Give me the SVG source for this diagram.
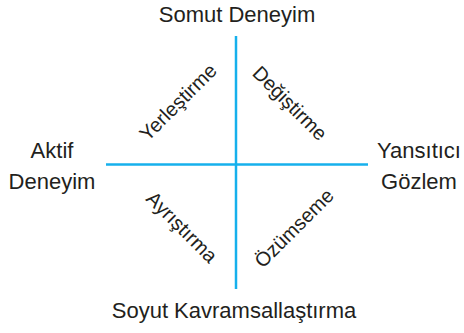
<svg xmlns="http://www.w3.org/2000/svg" width="464" height="333" viewBox="0 0 464 333">
<style>
text{font-family:"Liberation Sans",Arial,sans-serif;font-size:22px;fill:#231f20;text-anchor:middle}
.d{font-size:20px;dominant-baseline:central}
.ax{stroke:#16b0ec;stroke-width:2.5;fill:none}
</style>
<rect width="464" height="333" fill="#fff"/>
<g id="connectors">
<line class="ax" x1="236" y1="36" x2="236" y2="289"/>
<line class="ax" x1="106" y1="164.5" x2="368" y2="164.5"/>
</g>
<g id="somut"><text x="237" y="22">Somut Deneyim</text></g>
<g id="soyut"><text x="234" y="318">Soyut Kavramsallaştırma</text></g>
<g id="aktif"><text x="52" y="158">Aktif</text><text x="52" y="189">Deneyim</text></g>
<g id="yansitici"><text x="419" y="158">Yansıtıcı</text><text x="419" y="189">Gözlem</text></g>
<g id="yerlestirme"><text class="d" transform="translate(178,102) rotate(-45)">Yerleştirme</text></g>
<g id="degistirme"><text class="d" transform="translate(290,103) rotate(45)">Değiştirme</text></g>
<g id="ayristirma"><text class="d" transform="translate(182,227) rotate(45)">Ayrıştırma</text></g>
<g id="ozumseme"><text class="d" transform="translate(294,228) rotate(-45)">Özümseme</text></g>
</svg>
